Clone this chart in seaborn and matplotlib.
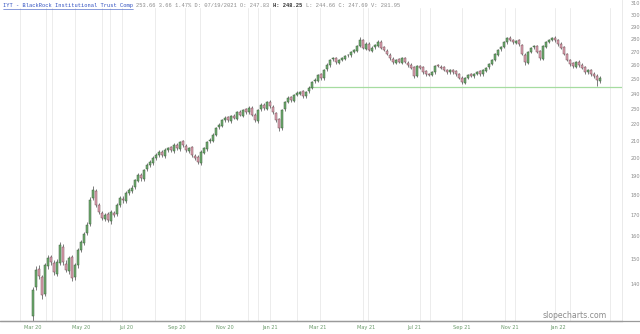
import matplotlib
matplotlib.use("Agg")
import matplotlib.pyplot as plt
import seaborn as sns
import numpy as np
import pandas as pd

# ---------------- data ----------------
opens = [127.8,138.5,146.0,142.5,136.0,147.0,150.8,148.5,144.0,148.5,
         155.5,148.0,145.0,151.0,142.5,147.5,154.0,157.0,161.5,166.0,
         178.5,182.0,175.0,171.0,168.0,170.5,167.0,171.0,170.5,175.0,
         178.0,177.0,181.0,182.0,184.0,187.5,190.5,188.5,193.5,196.0,
         197.0,200.0,201.5,203.5,201.0,204.5,206.0,204.0,207.5,205.0,
         209.5,207.0,204.0,206.0,201.0,200.5,197.0,203.0,205.0,209.5,
         210.0,213.5,218.0,219.0,222.5,224.5,222.0,225.5,223.5,228.0,
         225.5,229.5,227.5,230.5,226.0,222.0,229.5,232.5,230.0,234.5,
         231.0,227.0,223.0,217.5,229.5,234.5,237.5,235.0,239.0,240.0,
         241.5,238.0,241.5,244.0,248.5,249.0,253.5,250.5,257.0,260.0,
         264.5,265.5,262.0,264.0,265.0,267.5,267.5,270.0,271.0,274.5,
         279.0,272.5,276.5,271.0,273.5,275.0,278.0,273.5,271.0,268.0,
         265.0,262.0,264.5,262.0,265.5,262.0,260.5,258.5,252.5,259.5,
         258.5,255.5,253.5,253.0,255.0,260.0,259.0,258.5,256.5,255.0,
         256.5,255.5,253.5,251.0,247.5,251.0,253.5,252.0,254.0,255.5,
         253.5,256.0,258.5,261.0,264.0,268.0,272.0,274.0,277.5,281.0,
         279.5,277.0,279.0,275.5,268.0,262.0,270.0,273.5,274.5,270.5,
         265.0,274.0,278.0,279.5,281.0,279.5,276.5,273.5,268.5,264.0,
         261.5,259.0,262.5,260.5,258.5,255.0,256.5,254.0,252.5,249.0]
closes = [137.4,145.5,143.0,135.5,147.6,150.5,148.8,144.7,148.8,156.1,
          148.8,145.5,150.5,142.2,147.6,153.9,157.5,161.1,165.3,177.4,
          182.6,174.9,171.5,168.6,170.0,167.6,171.5,170.0,174.9,178.4,
          177.4,180.9,182.6,183.6,187.7,190.4,188.8,193.2,196.0,197.6,
          199.9,201.6,203.3,201.6,204.4,205.6,204.4,207.3,205.6,209.1,
          207.3,204.4,205.6,201.6,199.9,197.6,203.3,205.6,209.1,210.3,
          213.3,217.6,219.4,222.6,223.9,222.6,225.1,223.9,227.7,225.8,
          229.0,227.7,230.3,225.8,222.6,229.0,232.3,230.3,234.2,231.6,
          227.7,222.6,217.6,229.0,234.2,236.9,235.6,238.9,240.3,241.0,
          238.2,241.0,243.8,248.0,249.4,253.0,250.8,256.6,260.3,263.9,
          265.4,262.4,263.9,265.4,266.9,267.6,269.9,271.5,274.6,279.3,
          273.1,276.2,271.5,273.1,275.4,277.7,273.1,271.5,268.4,265.4,
          262.4,263.9,262.4,265.4,262.4,260.3,258.0,252.3,259.5,258.0,
          255.1,253.7,253.0,255.1,259.5,259.5,258.0,256.6,255.1,256.6,
          255.1,253.7,250.8,248.0,250.8,253.0,252.3,253.7,255.1,253.7,
          256.6,258.0,260.9,263.9,268.4,271.5,273.9,277.7,280.9,279.3,
          277.7,278.5,276.2,268.4,262.4,269.9,273.1,274.6,269.9,265.4,
          274.6,277.7,279.3,280.9,279.3,276.2,273.1,268.4,263.9,260.9,
          259.5,262.4,260.3,258.0,255.1,256.6,253.7,252.3,249.4,250.8]
highs = [138.5,147.0,147.5,143.5,148.5,152.0,152.0,149.5,150.0,157.5,
         156.5,149.5,151.5,152.0,148.5,155.0,158.5,162.0,166.5,179.0,
         184.5,183.0,176.0,172.0,171.0,171.5,172.5,172.0,176.0,179.5,
         179.5,182.0,183.5,185.0,188.5,191.5,191.5,194.0,197.0,198.5,
         201.0,202.5,204.5,204.5,205.5,206.5,207.0,208.5,208.5,210.0,
         210.5,208.0,206.5,207.0,202.0,201.5,204.5,206.5,210.0,211.5,
         214.5,218.5,220.5,223.5,225.0,225.5,226.0,226.5,228.5,229.0,
         230.0,230.5,231.5,231.5,227.0,230.0,233.5,233.5,235.0,235.5,
         232.0,228.0,224.0,230.0,235.0,238.0,238.5,240.0,241.5,242.0,
         242.5,242.0,245.0,249.0,250.5,254.0,254.5,257.5,261.5,265.0,
         266.5,266.5,265.0,266.5,268.0,268.5,271.0,272.5,275.5,281.5,
         280.0,277.5,277.5,274.5,276.5,279.0,279.0,274.5,272.0,269.0,
         266.0,265.0,265.5,266.5,266.5,263.0,261.5,259.5,260.5,260.5,
         259.5,256.5,254.5,256.0,260.5,261.0,260.0,259.5,257.5,257.5,
         257.5,256.5,254.5,252.0,251.5,254.0,254.5,254.5,256.0,256.5,
         257.5,259.0,262.0,265.0,269.5,272.5,275.0,278.5,282.0,282.5,
         280.5,279.5,280.0,276.5,269.0,271.0,274.0,275.5,275.5,271.5,
         275.5,278.5,280.5,282.0,282.5,280.5,277.5,274.5,269.5,265.0,
         262.5,263.5,264.0,261.5,259.5,257.5,257.5,255.0,253.5,252.0]
lows = [126.0,137.5,142.0,134.0,135.0,146.0,147.5,143.5,143.0,147.5,
        147.5,144.5,144.0,141.0,141.5,146.5,153.0,156.0,160.5,165.0,
        177.5,174.0,170.5,167.5,167.0,166.5,166.0,169.0,169.5,174.0,
        176.0,176.0,180.0,181.0,183.0,186.5,187.5,187.5,192.5,195.0,
        196.0,199.0,200.5,200.5,200.0,203.5,203.5,203.0,204.5,204.0,
        206.0,203.5,203.0,200.5,198.5,196.5,196.0,202.0,204.0,208.5,
        209.0,212.5,217.0,218.0,221.5,221.5,221.0,223.0,222.5,225.0,
        224.5,226.5,226.5,225.0,221.5,221.0,228.5,229.0,229.0,230.5,
        226.5,221.5,215.5,216.5,228.5,233.5,234.5,234.0,238.0,239.0,
        237.0,237.0,240.5,243.0,247.5,248.0,249.5,249.5,256.0,259.0,
        263.5,261.0,261.0,263.0,264.0,266.5,266.5,269.0,270.0,273.5,
        272.0,271.5,270.5,270.0,272.5,274.0,272.0,270.5,267.5,264.0,
        261.0,261.0,261.5,261.0,261.5,259.0,257.0,251.0,251.5,257.0,
        254.0,252.5,252.0,252.0,254.0,258.5,257.0,255.5,254.0,254.0,
        254.0,252.5,250.0,246.5,246.5,250.0,251.5,251.0,253.0,252.5,
        252.5,255.0,257.5,260.0,263.0,267.0,271.0,273.0,276.5,278.5,
        276.5,276.0,275.0,267.5,260.5,261.0,269.0,272.5,269.0,264.0,
        264.0,273.0,277.0,278.5,278.0,275.0,272.0,267.5,263.0,259.5,
        258.0,258.0,259.0,257.0,254.0,254.0,252.5,251.0,245.0,247.5]

x_labels = ["Mar 20", "May 20", "Jul 20", "Sep 20", "Nov 20", "Jan 21",
            "Mar 21", "May 21", "Jul 21", "Sep 21", "Nov 21", "Jan 22"]
y_ticks = [140, 150, 160, 170, 180, 190, 200, 210, 220, 230, 240, 250,
           260, 270, 280, 290, 300, 310]
level_price = 244.5
level_start_bar = 92

title_text = "IYT - BlackRock Institutional Trust Comp"
quote_text = "253.66 3.66 1.47% D: 07/19/2021 O: 247.83"
quote_hl = "H: 248.25"
quote_rest = "L: 244.66 C: 247.69 V: 281.95"

# ---------------- layout ----------------
x_label_bars = [0, 16, 31, 48, 64, 79, 95, 111, 127, 143, 159, 175]
vgrid_bars = [-4.3, 4.3, 6.3, 14, 23, 25.7, 29.7, 40.7, 50.7, 55.7, 71.7, 75,
              79, 88, 95.7, 110, 111.7, 129, 132.3, 143, 157.3, 160.7, 174,
              179, 192.3]

df = pd.DataFrame({"open": opens, "high": highs, "low": lows, "close": closes})
df["bar"] = np.arange(len(df))
df["up"] = df["close"] >= df["open"]

sns.set_theme(style="white")
plt.rcParams["font.family"] = ["DejaVu Sans"]

W, H = 640, 334
fig = plt.figure(figsize=(W / 100, H / 100), dpi=100)
ax = fig.add_axes([0, 13 / H, 622 / W, 321 / H])
ax.set_facecolor("white")

for xb in vgrid_bars:
    ax.axvline(xb, ymax=0.975, color="#ececec", lw=0.7, zorder=0)

# wicks
ax.vlines(df["bar"], df["low"], df["high"], color="#4a4a4a", lw=0.5, zorder=2)
# bodies
up = df[df["up"]]
dn = df[~df["up"]]
ax.bar(up["bar"], up["close"] - up["open"], bottom=up["open"], width=0.6,
       color="#6fae6f", edgecolor="#3a5a3a", linewidth=0.35, zorder=3)
ax.bar(dn["bar"], dn["open"] - dn["close"], bottom=dn["close"], width=0.6,
       color="#e3a3b3", edgecolor="#6a4a52", linewidth=0.35, zorder=3)

# horizontal level line
lvl = pd.DataFrame({"bar": [level_start_bar, 200], "price": [level_price, level_price]})
sns.lineplot(data=lvl, x="bar", y="price", ax=ax, color="#a6dca0", lw=0.9, zorder=1)

ax.set_yscale("log")
ax.set_xlim(-11, (622 - 33) / 3)
ax.set_ylim(np.exp((2026 - 321) / 352.6), np.exp(2026 / 352.6))

ax.set_yticks(y_ticks)
ax.set_yticklabels([str(v) for v in y_ticks])
ax.yaxis.set_minor_locator(matplotlib.ticker.NullLocator())
ax.yaxis.tick_right()
ax.tick_params(axis="y", length=0, pad=6, labelsize=3.6, labelcolor="#8a8a8a")
ax.set_xticks(x_label_bars)
ax.set_xticklabels(x_labels)
ax.tick_params(axis="x", length=0, pad=3, labelsize=3.6, labelcolor="#6a9a6a")
ax.set_xlabel("")
ax.set_ylabel("")

for s in ["top", "left"]:
    ax.spines[s].set_visible(False)
ax.spines["right"].set_color("#e6e6e6")
ax.spines["right"].set_linewidth(0.6)
ax.spines["bottom"].set_color("#9a9a9a")
ax.spines["bottom"].set_linewidth(0.9)

# bottom axis line across full width
fig.add_artist(plt.Line2D([0, 1], [13 / H, 13 / H], color="#9a9a9a", lw=0.9))

# header (monospace, positioned by character cells)
mono = ["Liberation Mono", "DejaVu Sans Mono"]
fs = 3.9
cw = 0.6 * fs * 100 / 72  # px per character
x0 = 3
yh = 1 - 5.5 / H
fig.text(x0 / W, yh, title_text, fontsize=fs, family=mono,
         color="#3050c0", va="center", ha="left")
fig.add_artist(plt.Line2D([x0 / W, (x0 + cw * len(title_text)) / W],
                          [1 - 8.6 / H, 1 - 8.6 / H], color="#3050c0", lw=0.4))
xq = x0 + cw * (len(title_text) + 1)
fig.text(xq / W, yh, quote_text, fontsize=fs, family=mono,
         color="#8a8a8a", va="center", ha="left")
xh = xq + cw * (len(quote_text) + 1)
fig.text(xh / W, yh, quote_hl, fontsize=fs, family=mono,
         color="#333333", weight="bold", va="center", ha="left")
xr = xh + cw * (len(quote_hl) + 1.3)
fig.text(xr / W, yh, quote_rest, fontsize=fs, family=mono,
         color="#8a8a8a", va="center", ha="left")

# watermark
fig.text(607 / W, 1 - 316 / H, "slopecharts.com", fontsize=5.6,
         color="#8c8c8c", ha="right", va="center")

fig.savefig("out.png", dpi=100)
